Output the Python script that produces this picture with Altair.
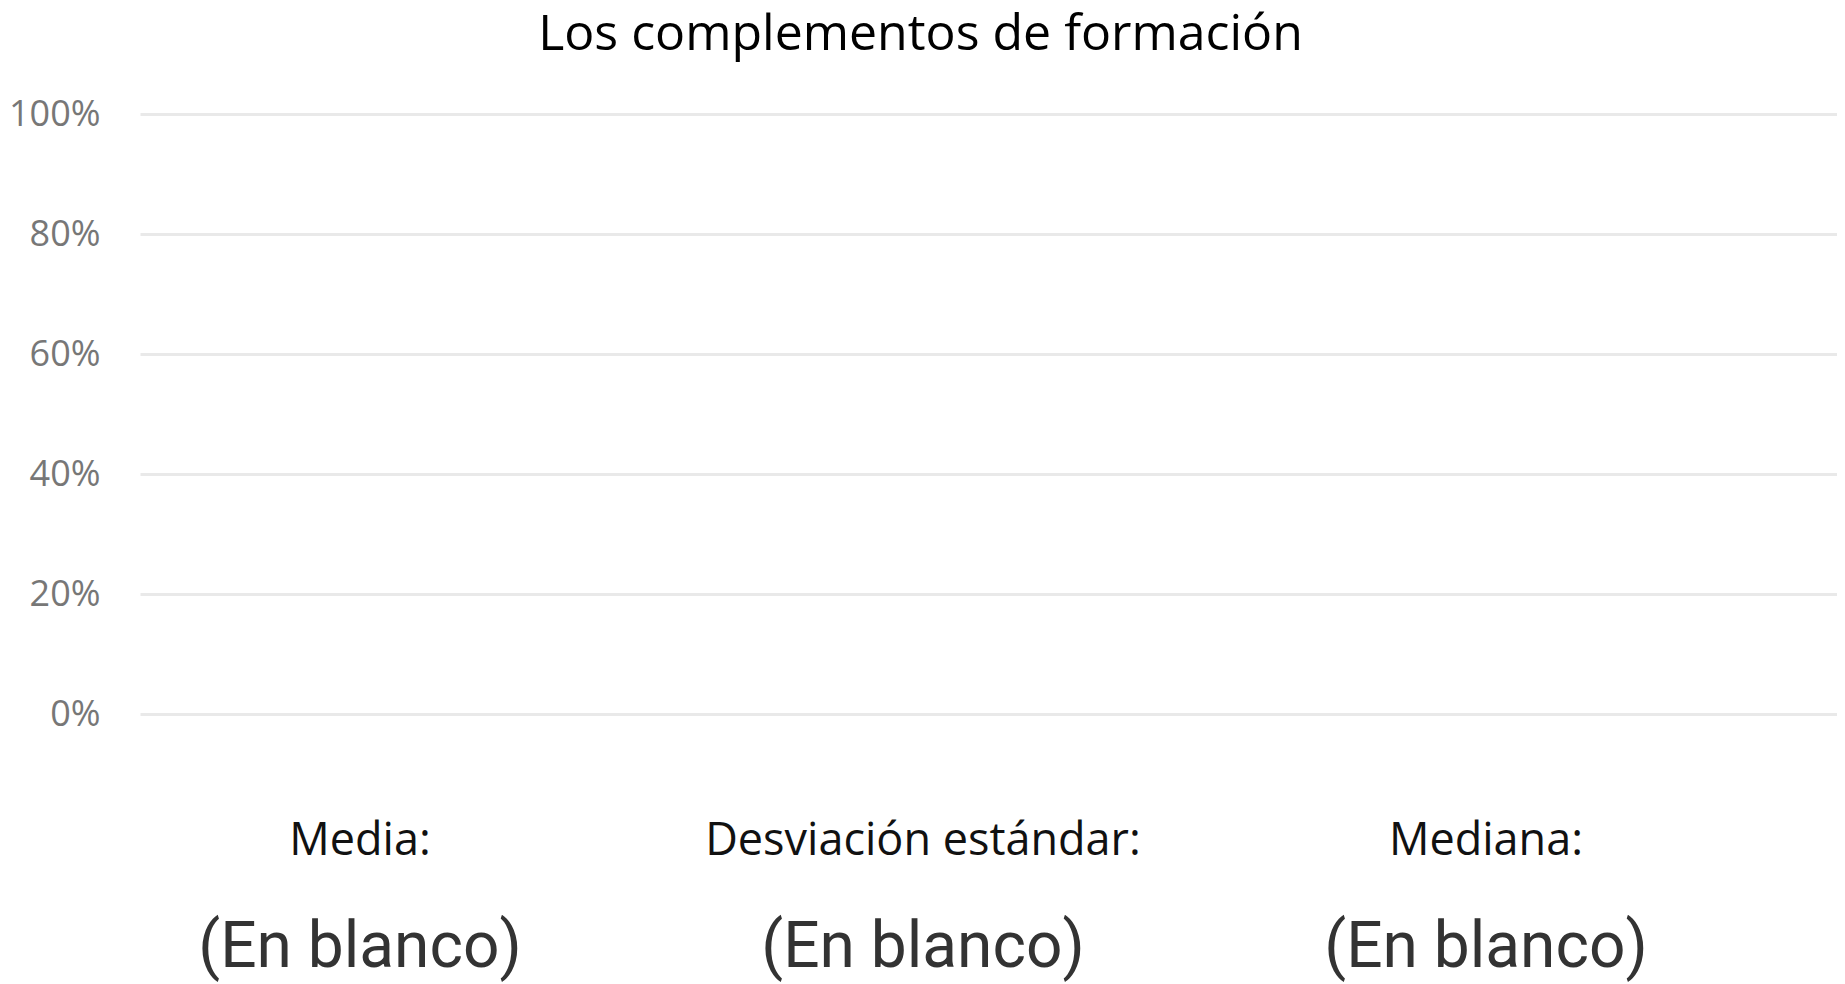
import altair as alt
import pandas as pd

# --- data ---
titulo = "Los complementos de formación"
categorias = []          # no bars: the visual is empty ("En blanco")
valores = []
ticks_y = [0, 0.2, 0.4, 0.6, 0.8, 1.0]
tarjetas = ["Media:", "Desviación estándar:", "Mediana:"]
valores_tarjetas = ["(En blanco)", "(En blanco)", "(En blanco)"]

barras_df = pd.DataFrame({"categoria": pd.Series(categorias, dtype="object"),
                          "valor": pd.Series(valores, dtype="float")})
tarjetas_df = pd.DataFrame({"tarjeta": tarjetas, "valor": valores_tarjetas})

W, H = 1697, 600

base = alt.Chart(barras_df).mark_bar(color="#118DFF").encode(
    y=alt.Y(
        "valor:Q",
        scale=alt.Scale(domain=[0, 1], nice=False, zero=True),
        axis=alt.Axis(
            values=ticks_y,
            format=".0%",
            title=None,
            grid=True,
            gridColor="#e9e9e9",
            gridWidth=3,
            domain=False,
            ticks=False,
            tickSize=0,
            labelPadding=40,
            labelFont="Open Sans",
            labelFontSize=36,
            labelColor="#777777",
        ),
    )
)

xscale = alt.Scale(type="point", domain=tarjetas, range=[220, 1346], padding=0)

etiquetas = alt.Chart(tarjetas_df).mark_text(
    font="Open Sans", fontSize=45, color="#111111", align="center", baseline="alphabetic"
).encode(
    x=alt.X("tarjeta:N", scale=xscale, axis=None),
    y=alt.value(741),
    text="tarjeta:N",
)

valores_txt = alt.Chart(tarjetas_df).mark_text(
    font="Roboto", fontSize=64, color="#333333", align="center", baseline="alphabetic"
).encode(
    x=alt.X("tarjeta:N", scale=xscale, axis=None),
    y=alt.value(853),
    text="valor:N",
)

chart = alt.layer(base, etiquetas, valores_txt).properties(
    width=W,
    height=H,
    title=alt.TitleParams(
        titulo,
        font="Open Sans",
        fontSize=50,
        fontWeight="normal",
        color="#000000",
        anchor="middle",
        dx=-68,
        offset=36,
    ),
    padding={"left": 132, "top": 106, "right": 0, "bottom": 272},
    autosize=alt.AutoSizeParams(type="none"),
).configure_view(stroke=None)

chart.save("out.html", embed_options={"renderer": "svg", "actions": False})
